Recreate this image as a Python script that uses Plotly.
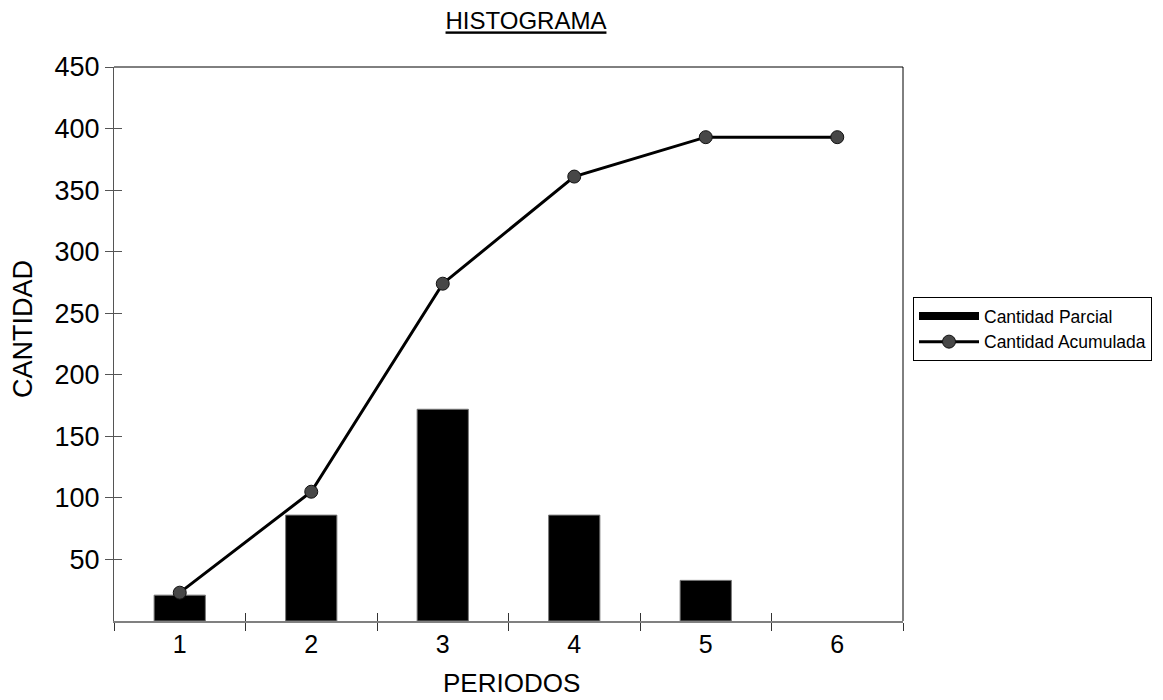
import plotly.graph_objects as go

periodos = ["1", "2", "3", "4", "5", "6"]
cantidad_parcial = [21, 86, 172, 86, 33, None]
cantidad_acumulada = [23, 105, 274, 361, 393, 393]
y_ticks = [50, 100, 150, 200, 250, 300, 350, 400, 450]

FONT = "Liberation Sans, Arial, sans-serif"

# page body has an 8px margin: figure is laid out in page coords minus 8
W, H = 1155, 692
L, T = 106, 59
PW, PH = 789, 554

def px(xp):  # page x -> paper x
    return (xp - 8 - L) / PW

def py(yp):  # page y -> paper y
    return (T + PH - (yp - 8)) / PH

fig = go.Figure()
fig.add_trace(go.Bar(
    x=periodos, y=cantidad_parcial, name="Cantidad Parcial",
    width=0.39, showlegend=False, legendgroup="parcial",
    marker=dict(color="#000000", line=dict(color="#7a7a7a", width=1)),
))
# legend key for the bars, drawn as a thick black bar like the original
fig.add_trace(go.Scatter(
    x=[None], y=[None], name="Cantidad Parcial", legendgroup="parcial",
    mode="lines", line=dict(color="#000000", width=8), hoverinfo="skip",
))
fig.add_trace(go.Scatter(
    x=periodos, y=cantidad_acumulada, name="Cantidad Acumulada",
    mode="lines+markers",
    line=dict(color="#000000", width=3),
    marker=dict(size=13, color="#474747", line=dict(color="#111111", width=1)),
))
# helper overlay trace to carry the "inside" half of the crossing ticks
boundaries = [i - 0.5 for i in range(len(periodos) + 1)]
fig.add_trace(go.Scatter(
    x=boundaries, y=[0] * len(boundaries), xaxis="x2", yaxis="y2",
    mode="lines", line=dict(width=0), opacity=0, showlegend=False, hoverinfo="skip",
))

fig.update_layout(
    width=W, height=H,
    margin=dict(l=L, r=W - L - PW, t=T, b=H - T - PH, autoexpand=False),
    paper_bgcolor="white", plot_bgcolor="white",
    font=dict(family=FONT, color="#000000"),
    title=dict(text="<u>HISTOGRAMA</u>", x=(526 - 8) / W, xanchor="center",
               y=1 - (21 - 8) / H, yanchor="middle",
               font=dict(size=24, family=FONT, color="#000000")),
    showlegend=True,
    legend=dict(x=px(913), xanchor="left", y=py(297), yanchor="top",
                bordercolor="#000000", borderwidth=1, bgcolor="white",
                font=dict(size=17.5, family=FONT, color="#000000"),
                itemwidth=60, tracegroupgap=0),
    bargap=0.61,
    xaxis=dict(type="category", categoryorder="array", categoryarray=periodos,
               range=[-0.5, 5.5], tickson="boundaries",
               ticks="outside", ticklen=8, tickcolor="#333333", tickwidth=1,
               showline=True, linecolor="#808080", linewidth=2,
               showgrid=False, zeroline=False,
               tickfont=dict(size=25, family=FONT, color="#000000")),
    xaxis2=dict(overlaying="x", anchor="y", range=[-0.5, 5.5], tickvals=boundaries,
                ticks="inside", ticklen=8, tickcolor="#333333", tickwidth=1,
                showticklabels=False, showline=False, showgrid=False, zeroline=False),
    yaxis=dict(range=[0, 450], tickvals=y_ticks,
               ticks="outside", ticklen=8, tickcolor="#555555", tickwidth=1,
               showline=True, linecolor="#555555", linewidth=1,
               showgrid=False, zeroline=False,
               tickfont=dict(size=27, family=FONT, color="#000000")),
    yaxis2=dict(overlaying="y", anchor="x", range=[0, 450], tickvals=y_ticks,
                ticks="inside", ticklen=8, tickcolor="#555555", tickwidth=1,
                showticklabels=False, showline=False, showgrid=False, zeroline=False),
    shapes=[
        dict(type="line", xref="paper", yref="paper", x0=0, x1=1, y0=1, y1=1,
             line=dict(color="#000000", width=1)),
        dict(type="line", xref="paper", yref="paper", x0=1, x1=1, y0=0, y1=1,
             line=dict(color="#000000", width=1)),
    ],
    annotations=[
        dict(text="CANTIDAD", xref="paper", yref="paper",
             x=px(23), y=py(329), xanchor="center", yanchor="middle",
             textangle=-90, showarrow=False,
             font=dict(size=27, family=FONT, color="#000000")),
        dict(text="PERIODOS", xref="paper", yref="paper",
             x=px(511), y=py(683), xanchor="center", yanchor="middle",
             showarrow=False,
             font=dict(size=26, family=FONT, color="#000000")),
    ],
)

fig.write_html("out.html")
